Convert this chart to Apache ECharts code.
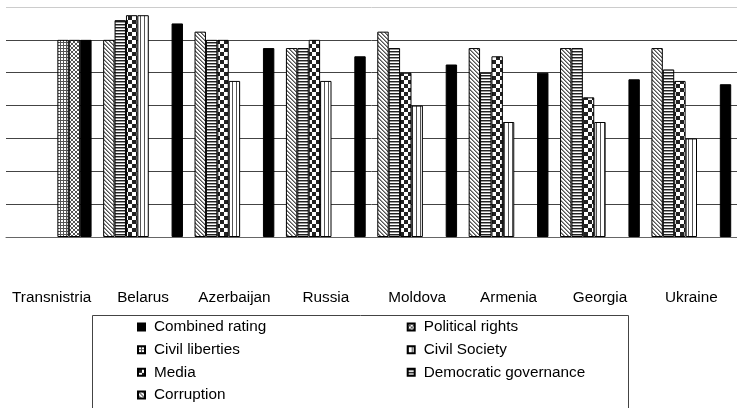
<!DOCTYPE html>
<html><head><meta charset="utf-8">
<script src="https://cdn.jsdelivr.net/npm/echarts@6/dist/echarts.min.js"></script>
<style>html,body{margin:0;padding:0;background:#fff}#c{width:737px;height:408px}</style>
</head><body><div id="c"></div>
<script>
// ---- data ----
const categories = ['Transnistria', 'Belarus', 'Azerbaijan', 'Russia', 'Moldova', 'Armenia', 'Georgia', 'Ukraine'];
const corruption           = [null, 6.0, 6.25, 5.75, 6.25, 5.75, 5.75, 5.75];
const democraticGovernance = [null, 6.6, 6.0, 5.75, 5.75, 5.0, 5.75, 5.1];
const media                = [null, 6.75, 6.0, 6.0, 5.0, 5.5, 4.25, 4.75];
const civilSociety         = [null, 6.75, 4.75, 4.75, 4.0, 3.5, 3.5, 3.0];
const civilLiberties       = [6, null, null, null, null, null, null, null];
const politicalRights      = [6, null, null, null, null, null, null, null];
const combinedRating       = [6, 6.5, 5.75, 5.5, 5.25, 5.0, 4.8, 4.65];
const legendOrder = ['Combined rating', 'Political rights', 'Civil liberties', 'Civil Society', 'Media', 'Democratic governance', 'Corruption'];

// ---- fill patterns (style only) ----
function makePattern(rows, palette) {
  const h = rows.length, w = rows[0].length;
  const cv = document.createElement('canvas');
  cv.width = w; cv.height = h;
  const ctx = cv.getContext('2d');
  for (let y = 0; y < h; y++) for (let x = 0; x < w; x++) {
    ctx.fillStyle = palette[rows[y][x]];
    ctx.fillRect(x, y, 1, 1);
  }
  return { image: cv, repeat: 'repeat' };
}
const pal = { '#': '#222', '+': '#999', '.': '#fff', 'g': '#555' };
const patCorruption = makePattern(['g+..', '.g+.', '..g+', '+..g'], pal);
const patGov = makePattern(['###', '+++', '...'], pal);
const patMedia = makePattern(['####....', '####....', '####....', '####....', '....####', '....####', '....####', '....####'], pal);
const patCivSoc = makePattern(['g...'], pal);
const patCivLib = makePattern(['ggg', 'g..', 'g..'], pal);
const patPolRights = makePattern(['g..g', '.gg.', '.gg.', 'g..g'], pal);

const FONT = "'Liberation Sans', Arial, sans-serif";

function barSeries(name, data, fill) {
  return {
    name: name, type: 'bar', data: data,
    barWidth: 11.4, barGap: '0%',
    itemStyle: { color: fill, borderColor: '#000', borderWidth: 1 },
    emphasis: { disabled: true }
  };
}

const chart = echarts.init(document.getElementById('c'), null, { renderer: 'canvas' });
chart.setOption({
  animation: false,
  backgroundColor: '#fff',
  textStyle: { fontFamily: FONT },
  grid: { left: 6, right: -8, top: 7, bottom: 171, containLabel: false },
  xAxis: {
    type: 'category', data: categories,
    axisLine: { lineStyle: { color: '#666', width: 1 } },
    axisTick: { length: 5, lineStyle: { color: '#666' } },
    axisLabel: { color: '#000', fontSize: 15.3, fontFamily: FONT, margin: 53, interval: 0 }
  },
  yAxis: {
    type: 'value', min: 0, max: 7, interval: 1,
    axisLine: { show: false }, axisTick: { show: false }, axisLabel: { show: false },
    splitLine: { lineStyle: { color: ['#444', '#444', '#444', '#444', '#444', '#444', '#444', '#ccc'], width: 1 } }
  },
  legend: {
    data: legendOrder,
    orient: 'horizontal', left: 137, top: 315.6, width: 540,
    padding: 0, itemGap: 0, itemWidth: 7, itemHeight: 7, icon: 'rect',
    selectedMode: false,
    textStyle: { color: '#000', fontSize: 15.3, fontFamily: FONT, width: 252.7, lineHeight: 22.7, padding: [0, 0, 0, 4] }
  },
  graphic: [{
    type: 'rect', shape: { x: 92.5, y: 315.5, width: 536, height: 120 },
    style: { fill: 'none', stroke: '#444', lineWidth: 1 }, silent: true
  }],
  series: [
    barSeries('Corruption', corruption, patCorruption),
    barSeries('Democratic governance', democraticGovernance, patGov),
    barSeries('Media', media, patMedia),
    barSeries('Civil Society', civilSociety, patCivSoc),
    barSeries('Civil liberties', civilLiberties, patCivLib),
    barSeries('Political rights', politicalRights, patPolRights),
    barSeries('Combined rating', combinedRating, '#000')
  ]
});
</script>
</body></html>
